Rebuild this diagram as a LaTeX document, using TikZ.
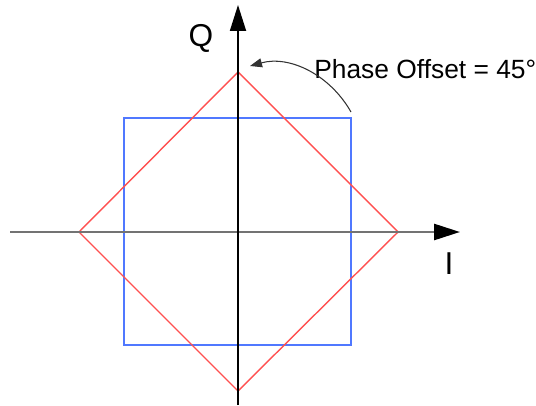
\documentclass[tikz,border=0pt]{standalone}
\usepackage{fontspec}
\setmainfont{Liberation Sans}
\usetikzlibrary{arrows.meta}
\definecolor{axisgray}{gray}{0.45}
\definecolor{offsetred}{RGB}{255,80,80}
\definecolor{gridblue}{RGB}{80,120,255}
\tikzset{
  axlab/.style={font=\fontsize{18}{20}\selectfont,inner sep=0pt},
  capt/.style={font=\fontsize{15}{17}\selectfont,inner sep=0pt},
  iaxis/.style={draw=axisgray,line width=1.5pt,-{Triangle[length=26*0.02cm,width=16*0.02cm,color=black]}},
  qaxis/.style={draw=black,line width=1pt,-{Triangle[length=26*0.02cm,width=16*0.02cm]}},
  sqline/.style={draw=gridblue,line width=0.8pt},
  dmline/.style={draw=offsetred,line width=0.8pt},
}
\begin{document}
\begin{tikzpicture}[x=0.02cm,y=-0.02cm]
  \useasboundingbox (0,0) rectangle (536,405);
  % axes
  \coordinate (iL) at (10,232);
  \coordinate (iR) at (460,232);
  \coordinate (qB) at (238,405);
  \coordinate (qT) at (238,5);
  % blue square
  \draw[sqline] (124,118) rectangle (351,345);
  % red diamond
  \coordinate (dT) at (238,72);
  \coordinate (dR) at (398,232);
  \coordinate (dB) at (238,391);
  \coordinate (dL) at (79,232);
  \draw[dmline] (dT) -- (dR) -- (dB) -- (dL) -- cycle;
  \draw[iaxis] (iL) -- (iR);
  \draw[qaxis] (qB) -- (qT);
  \node[axlab] (qlab) at (201,38) {Q};
  \node[axlab] (ilab) at (449,264) {I};
  % offset label
  \node[capt,anchor=west] (offs) at (314,69) {Phase Offset = 45°};
  \coordinate (arrS) at (351,112);
  \coordinate (arrE) at (250,66);
  \draw[black!80,line width=0.6pt,-{Triangle[length=12*0.02cm,width=9*0.02cm]}]
    (arrS) .. controls (330,75) and (290,55) .. (arrE);
\end{tikzpicture}
\end{document}
